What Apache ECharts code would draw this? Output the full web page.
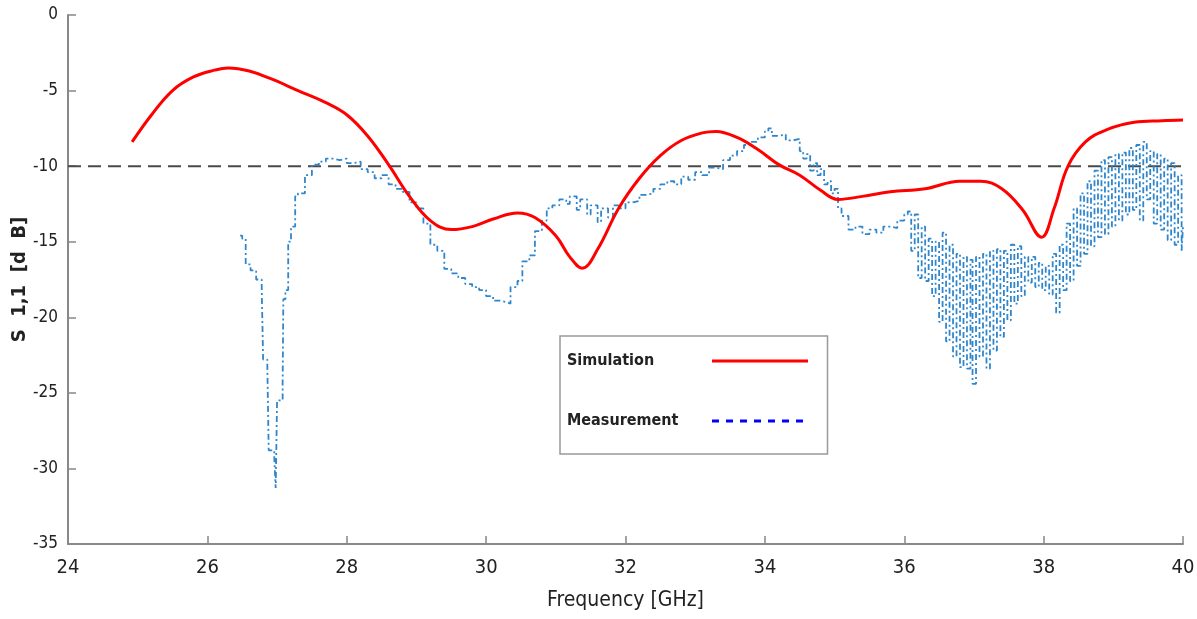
<!DOCTYPE html>
<html>
<head>
<meta charset="utf-8">
<script src="https://cdn.jsdelivr.net/npm/echarts@6/dist/echarts.min.js"></script>
<style>
html,body{margin:0;padding:0;background:#fff;}
#chart{width:1197px;height:619px;}
</style>
</head>
<body>
<div id="chart"></div>
<script>
// ---- data ----
const xTicks = [24, 26, 28, 30, 32, 34, 36, 38, 40];
const yTicks = [0, -5, -10, -15, -20, -25, -30, -35];
const threshold = [[24, -10], [40, -10]];

const simulation = [
  [24.92,-8.4],[25.2,-6.6],[25.5,-5.0],[25.8,-4.1],[26.1,-3.65],[26.3,-3.5],[26.6,-3.7],
  [26.9,-4.2],[27.3,-5.0],[27.7,-5.8],[28.0,-6.6],[28.3,-8.0],[28.6,-9.9],[28.9,-12.0],
  [29.2,-13.6],[29.5,-14.2],[29.8,-14.0],[30.1,-13.5],[30.45,-13.1],[30.7,-13.4],[31.0,-14.6],
  [31.2,-16.0],[31.38,-16.75],[31.6,-15.5],[31.9,-12.8],[32.2,-10.8],[32.5,-9.3],[32.8,-8.3],
  [33.1,-7.8],[33.3,-7.7],[33.6,-8.1],[33.9,-8.9],[34.2,-9.9],[34.5,-10.6],[34.8,-11.6],
  [35.05,-12.2],[35.4,-12.0],[35.8,-11.7],[36.3,-11.5],[36.8,-11.0],[37.1,-11.0],[37.4,-11.5],
  [37.7,-12.9],[37.97,-14.7],[38.15,-12.8],[38.35,-10.0],[38.6,-8.4],[38.9,-7.6],[39.3,-7.1],
  [39.7,-7.0],[40.0,-6.95]
];

const measurement = [
  [26.47,-14.6],[26.5,-14.8],[26.55,-16.5],[26.62,-16.9],[26.7,-17.5],[26.78,-18.2],[26.8,-22.8],
  [26.86,-23.1],[26.88,-28.8],[26.96,-29.3],[26.98,-31.3],[26.99,-28.5],[27.0,-25.5],[27.08,-24.4],
  [27.09,-18.8],[27.12,-18.2],[27.16,-15.0],[27.2,-14.0],[27.26,-12.0],[27.3,-11.8],[27.4,-10.6],
  [27.5,-9.9],[27.6,-9.7],[27.7,-9.5],[27.8,-9.6],[27.9,-9.5],[28.0,-9.8],[28.1,-9.7],[28.2,-10.2],
  [28.3,-10.4],[28.4,-10.8],[28.5,-10.6],[28.6,-11.2],[28.7,-11.5],[28.8,-11.7],[28.9,-12.4],
  [29.0,-12.8],[29.1,-13.8],[29.2,-15.2],[29.3,-15.6],[29.4,-16.8],[29.5,-17.1],[29.6,-17.4],
  [29.7,-17.8],[29.8,-18.0],[29.9,-18.2],[30.0,-18.6],[30.1,-18.9],[30.2,-19.0],[30.3,-19.1],
  [30.35,-18.0],[30.45,-17.6],[30.52,-16.3],[30.62,-15.9],[30.7,-14.3],[30.8,-13.6],[30.87,-12.8],
  [30.95,-12.6],[31.05,-12.2],[31.15,-12.5],[31.2,-12.0],[31.3,-12.9],[31.35,-12.2],[31.45,-13.2],
  [31.5,-12.6],[31.6,-13.7],[31.65,-12.8],[31.75,-13.4],[31.82,-12.6],[31.9,-12.8],[32.0,-12.4],
  [32.1,-12.3],[32.2,-11.9],[32.3,-11.8],[32.4,-11.5],[32.5,-11.2],[32.6,-11.0],[32.7,-11.2],
  [32.8,-10.7],[32.9,-10.9],[33.0,-10.4],[33.1,-10.6],[33.2,-10.1],[33.3,-10.2],[33.4,-9.6],
  [33.5,-9.3],[33.6,-9.0],[33.7,-8.6],[33.8,-8.4],[33.9,-8.1],[34.0,-7.7],[34.05,-7.5],[34.1,-8.0],
  [34.2,-7.9],[34.3,-8.3],[34.4,-8.2],[34.5,-9.0],[34.55,-9.5],[34.6,-9.2],[34.65,-10.3],[34.7,-9.8],
  [34.75,-10.6],[34.8,-10.2],[34.85,-11.2],[34.9,-11.0],[34.95,-11.8],[35.0,-11.5],[35.05,-12.8],
  [35.1,-13.3],[35.2,-14.2],[35.3,-14.0],[35.4,-14.5],[35.5,-14.2],[35.6,-14.4],[35.7,-14.0],
  [35.8,-14.1],[35.9,-13.6],[36.0,-13.2],
  [36.05,-13.0],[36.10,-15.6],[36.15,-13.2],[36.20,-17.4],[36.25,-14.0],[36.30,-17.6],[36.35,-14.8],
  [36.40,-18.6],[36.45,-15.0],[36.50,-20.3],[36.55,-14.4],[36.60,-21.6],[36.65,-15.2],[36.70,-22.6],
  [36.75,-15.8],[36.80,-23.3],[36.85,-16.0],[36.90,-23.4],[36.95,-16.2],[36.98,-24.4],[37.03,-16.0],
  [37.08,-22.6],[37.13,-15.8],[37.18,-23.4],[37.23,-15.6],[37.28,-22.2],[37.33,-15.5],[37.38,-21.3],
  [37.43,-15.6],[37.48,-20.2],[37.53,-15.2],[37.58,-19.1],[37.63,-15.3],[37.68,-18.6],[37.73,-16.0],
  [37.78,-17.7],[37.83,-16.0],[37.88,-18.0],[37.93,-16.4],[37.98,-18.2],[38.03,-16.6],[38.08,-18.5],
  [38.13,-15.8],[38.18,-19.7],[38.23,-15.2],[38.28,-18.2],[38.33,-13.8],[38.38,-17.6],[38.43,-12.8],
  [38.48,-16.6],[38.53,-11.8],[38.58,-15.8],[38.63,-11.0],[38.68,-15.3],[38.73,-10.3],[38.78,-14.7],
  [38.83,-9.6],[38.88,-14.5],[38.93,-9.4],[38.98,-14.0],[39.03,-9.2],[39.08,-13.6],[39.13,-9.1],
  [39.18,-13.2],[39.23,-8.8],[39.28,-12.9],[39.33,-8.6],[39.38,-13.6],[39.43,-8.4],[39.48,-12.2],
  [39.53,-9.0],[39.58,-13.8],[39.63,-9.2],[39.68,-14.2],[39.73,-9.5],[39.78,-14.9],[39.83,-9.8],
  [39.88,-15.2],[39.93,-10.6],[39.98,-15.6],[40.0,-14.0]
];

// ---- chart ----
const FONT = "'Liberation Sans Narrow', 'DejaVu Sans Condensed', 'Liberation Sans', Arial, sans-serif";
const chart = echarts.init(document.getElementById('chart'), null, {renderer: 'canvas'});
chart.setOption({
  backgroundColor: '#ffffff',
  animation: false,
  grid: {left: 68, right: 14, top: 15, bottom: 75, containLabel: false, outerBoundsMode: 'none'},
  legend: {
    orient: 'vertical',
    left: 560, top: 336,
    align: 'right',
    padding: [17, 18, 25, 7],
    itemGap: 44,
    itemWidth: 96, itemHeight: 14,
    backgroundColor: '#ffffff',
    borderColor: '#999999', borderWidth: 1.5, borderRadius: 0,
    formatter: '{a|{name}}',
    textStyle: {
      fontFamily: FONT, fontWeight: 'bold', fontSize: 16, color: '#222',
      rich: {a: {width: 140, align: 'left', fontFamily: FONT, fontWeight: 'bold', fontSize: 16, color: '#222'}}
    },
    data: [
      {name: 'Simulation', itemStyle: {opacity: 0}, lineStyle: {color: '#ff0000', width: 3}},
      {name: 'Measurement', itemStyle: {opacity: 0}, lineStyle: {color: '#0000ff', width: 3, type: [7, 7]}}
    ]
  },
  xAxis: {
    type: 'value', min: 24, max: 40, interval: 2,
    name: 'Frequency [GHz]', nameLocation: 'middle', nameGap: 46, nameMoveOverlap: false,
    nameTextStyle: {fontFamily: FONT, fontSize: 21, color: '#222'},
    axisLine: {onZero: false, lineStyle: {color: '#888', width: 2}},
    axisTick: {inside: true, length: 8, lineStyle: {color: '#888', width: 1.5}},
    axisLabel: {fontFamily: FONT, fontSize: 20, color: '#222', margin: 14},
    splitLine: {show: false}
  },
  yAxis: {
    type: 'value', min: -35, max: 0, interval: 5,
    name: 'S  1,1  [d  B]', nameLocation: 'middle', nameGap: 38, nameMoveOverlap: false,
    nameTextStyle: {fontFamily: FONT, fontSize: 20, fontWeight: 'bold', color: '#222'},
    axisLine: {onZero: false, lineStyle: {color: '#888', width: 2}},
    axisTick: {inside: true, length: 8, lineStyle: {color: '#888', width: 1.5}},
    axisLabel: {fontFamily: FONT, fontSize: 17, color: '#222', margin: 10},
    splitLine: {show: false}
  },
  series: [
    {
      name: 'Threshold', type: 'line', data: threshold, symbol: 'none', silent: true,
      lineStyle: {color: '#4a4a4a', width: 2, type: [13, 7]}, z: 1
    },
    {
      name: 'Measurement', type: 'line', data: measurement, symbol: 'none', step: 'end',
      lineStyle: {color: '#2f86cc', width: 1.8, type: [6, 3, 2, 3]}, z: 2
    },
    {
      name: 'Simulation', type: 'line', data: simulation, symbol: 'none', smooth: 0.4,
      lineStyle: {color: '#ff0000', width: 3}, z: 3
    }
  ]
});
</script>
</body>
</html>
